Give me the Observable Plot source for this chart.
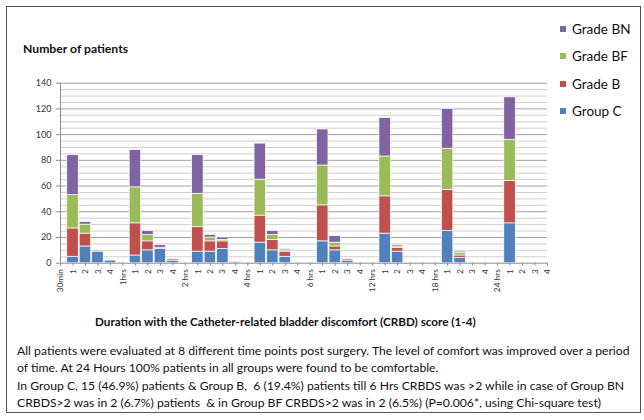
<!DOCTYPE html>
<html><head><meta charset="utf-8">
<script src="https://cdn.jsdelivr.net/npm/d3@7"></script>
<script src="https://cdn.jsdelivr.net/npm/@observablehq/plot@0.6"></script>
<style>
body{margin:0;background:#fff;}
#wrap{position:relative;width:644px;height:420px;overflow:hidden;font-family:Lato,"Open Sans",sans-serif;color:#111;background:#fff;}
#frame{position:absolute;left:6px;top:6px;width:635px;height:407px;border:1.5px solid #555;box-sizing:border-box;}
#chart{position:absolute;left:0;top:0;}
#ytitle{position:absolute;left:23px;top:41px;font-weight:bold;font-size:12.2px;white-space:nowrap;}
#xtitle{position:absolute;left:95px;top:314px;font-weight:bold;font-size:11.7px;white-space:nowrap;}
#caption{position:absolute;left:17px;top:342px;font-size:12.2px;line-height:17.3px;white-space:nowrap;}
#legend{position:absolute;left:560px;top:19px;font-size:13.5px;}
.li{position:relative;height:27.3px;line-height:20px;white-space:nowrap;padding-left:12px;}
.sw{position:absolute;left:0;top:7px;width:6px;height:6px;}
</style></head>
<body>
<div id="wrap">
  <div id="frame"></div>
  <div id="chart"></div>
  <div id="ytitle">Number of patients</div>
  <div id="xtitle">Duration with the Catheter-related bladder discomfort (CRBD) score (1-4)</div>
  <div id="legend"></div>
  <div id="caption">All patients were evaluated at 8 different time points post surgery. The level of comfort was improved over a period<br>of time. At 24 Hours 100% patients in all groups were found to be comfortable.<br>In Group C, 15 (46.9%) patients &amp; Group B,&nbsp; 6 (19.4%) patients till 6 Hrs CRBDS was &gt;2 while in case of Group BN<br>CRBDS&gt;2 was in 2 (6.7%) patients&nbsp; &amp; in Group BF CRBDS&gt;2 was in 2 (6.5%) (P=0.006*, using Chi-square test)</div>
</div>
<script>
const times = ["30min","1hrs","2 hrs","4 hrs","6 hrs","12 hrs","18 hrs","24 hrs"];
const scores = ["1","2","3","4"];
const series = ["Group C","Grade B","Grade BF","Grade BN"];
const colors = ["#4F81BD","#C0504D","#9BBB59","#8064A2"];
// values per time point, scores 1..4
const groupC  = [[5,13,9,2],[6,10,11,2],[9,9,11,1],[16,10,5,0],[17,10,2,0],[23,9,0,0],[25,4,0,0],[31,0,0,0]];
const gradeB  = [[22,10,0,0],[25,7,1,1],[19,8,6,0],[21,8,4,0],[28,3,1,0],[29,3,0,0],[32,2,0,0],[33,0,0,0]];
const gradeBF = [[26,7,1,0],[28,5,0,0],[26,3,1,0],[28,4,1,0],[31,3,0,0],[31,1,0,0],[32,2,0,0],[32,0,0,0]];
const gradeBN = [[31,2,0,0],[29,3,2,0],[30,2,2,0],[28,3,1,0],[28,5,0,0],[30,1,0,0],[31,1,0,0],[33,0,0,0]];
const yTicks = [0,20,40,60,80,100,120,140];

const tickLabels = [];
times.forEach(t => { tickLabels.push(t); scores.forEach(s => tickLabels.push(s)); });

const allSeries = [groupC, gradeB, gradeBF, gradeBN];
const data = [];
allSeries.forEach((arr, si) => {
  arr.forEach((vals, ti) => {
    vals.forEach((v, k) => {
      if (v > 0) data.push({series: series[si], i: ti * 5 + 1 + k, value: v});
    });
  });
});

const minor = d3.range(5, 141, 5).filter(v => v % 20 !== 0);

const plot = Plot.plot({
  width: 644, height: 310,
  marginLeft: 60, marginRight: 97, marginTop: 82.7, marginBottom: 47.3,
  style: {fontFamily: "Lato, sans-serif", background: "transparent"},
  x: {type: "linear", domain: [0, 39], axis: null},
  y: {domain: [0, 140], axis: null},
  color: {domain: series, range: colors},
  marks: [
    Plot.ruleY(minor, {stroke: "#cfcfcf", strokeWidth: 1}),
    Plot.ruleY(yTicks.slice(1), {stroke: "#a0a0a0", strokeWidth: 1}),
    Plot.rectY(data, {x1: d => d.i - 0.46, x2: d => d.i + 0.46, y: "value", fill: "series", stroke: "white", strokeWidth: 0.7}),
    Plot.ruleX([0], {stroke: "#8c8c8c"}),
    Plot.ruleY([0], {stroke: "#8c8c8c"}),
    Plot.axisY({ticks: yTicks, tickSize: 4, tickPadding: 5, fontSize: 9, stroke: "#8c8c8c", fill: "#333", label: null}),
    Plot.axisX({ticks: d3.range(40), tickFormat: i => tickLabels[i], tickRotate: -90, tickSize: 3, tickPadding: 3, fontSize: 8.3, stroke: "#8c8c8c", fill: "#333", label: null})
  ]
});
document.getElementById("chart").appendChild(plot);

const legend = document.getElementById("legend");
series.slice().reverse().forEach(s => {
  const div = document.createElement("div");
  div.className = "li";
  div.innerHTML = `<span class="sw" style="background:${colors[series.indexOf(s)]}"></span>${s}`;
  legend.appendChild(div);
});
</script>
</body></html>
